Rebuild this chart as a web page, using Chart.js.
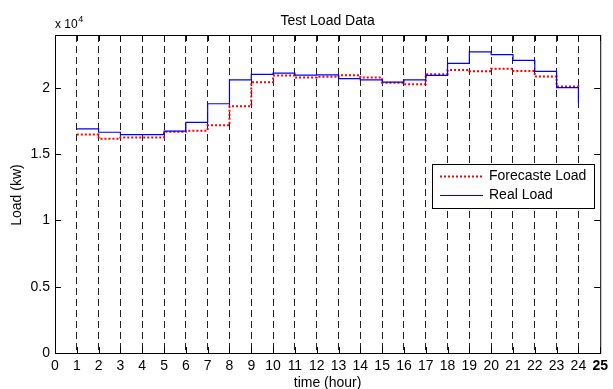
<!DOCTYPE html>
<html>
<head>
<meta charset="utf-8">
<title>Test Load Data</title>
<script src="https://cdn.jsdelivr.net/npm/chart.js@4.4.0/dist/chart.umd.min.js"></script>
<style>
  body { margin: 0; background: #fff; }
  #wrap { width: 613px; height: 389px; position: relative; }
</style>
</head>
<body>
<div id="wrap"><canvas id="load-chart"></canvas></div>
<script>
// Hourly load (kW), drawn as stairs: value i is held from hour i to hour i+1
const hours = [1, 2, 3, 4, 5, 6, 7, 8, 9, 10, 11, 12, 13, 14, 15, 16, 17, 18, 19, 20, 21, 22, 23, 24];
const forecastLoad = [16500, 16170, 16260, 16260, 16700, 16780, 17180, 18620, 20430, 20950, 20800, 20850,
                      20960, 20790, 20390, 20290, 21040, 21350, 21270, 21450, 21280, 20870, 20120, 20100];
const realLoad = [16920, 16660, 16480, 16480, 16750, 17400, 18810, 20620, 21030, 21120, 20970, 20990,
                  20710, 20620, 20450, 20620, 20950, 21860, 22730, 22520, 22080, 21260, 20030, 18870];

const xTicks = [0, 1, 2, 3, 4, 5, 6, 7, 8, 9, 10, 11, 12, 13, 14, 15, 16, 17, 18, 19, 20, 21, 22, 23, 24, 25];
const yTicks = [0, 5000, 10000, 15000, 20000];
const yTickLabels = ['0', '0.5', '1', '1.5', '2'];

const FAMILY = "'Liberation Sans', Arial, sans-serif";
const RED = '#ff0000';
const BLUE = '#0000ff';

// box, inner tick marks, titles and the legend box
const matlabFrame = {
  id: 'matlabFrame',
  afterDraw(chart) {
    const { ctx, chartArea: a, scales: { x, y } } = chart;
    ctx.save();
    ctx.strokeStyle = '#000';
    ctx.lineWidth = 1;
    ctx.strokeRect(a.left + 0.5, a.top + 0.5, a.right - a.left, a.bottom - a.top);

    ctx.beginPath();
    xTicks.forEach(v => {
      const px = Math.round(x.getPixelForValue(v)) + 0.5;
      ctx.moveTo(px, a.bottom); ctx.lineTo(px, a.bottom - 6);
      ctx.moveTo(px, a.top); ctx.lineTo(px, a.top + 6);
    });
    yTicks.forEach(v => {
      const py = Math.round(y.getPixelForValue(v)) + 0.5;
      ctx.moveTo(a.left, py); ctx.lineTo(a.left + 6, py);
      ctx.moveTo(a.right, py); ctx.lineTo(a.right - 6, py);
    });
    ctx.stroke();

    ctx.fillStyle = '#000';
    ctx.textBaseline = 'middle';
    ctx.textAlign = 'center';
    ctx.font = '14px ' + FAMILY;
    ctx.fillText('Test Load Data', (a.left + a.right) / 2, 21);
    ctx.fillText('time (hour)', (a.left + a.right) / 2, 383);

    ctx.save();
    ctx.translate(17, 195);
    ctx.rotate(-Math.PI / 2);
    ctx.fillText('Load (kw)', 0, 0);
    ctx.restore();

    // exponent label above the y axis
    ctx.textAlign = 'left';
    ctx.font = '12px ' + FAMILY;
    ctx.fillText('x 10', 55, 25);
    const w = ctx.measureText('x 10').width;
    ctx.font = '9px ' + FAMILY;
    ctx.fillText('4', 55 + w + 0.5, 20);

    // legend
    const lx = 432, ly = 164, lw = 162, lh = 44;
    ctx.fillStyle = '#fff';
    ctx.fillRect(lx, ly, lw, lh);
    ctx.strokeStyle = '#000';
    ctx.strokeRect(lx + 0.5, ly + 0.5, lw, lh);

    const entries = chart.data.datasets;
    const rows = [176.5, 195.5];
    entries.forEach((ds, i) => {
      ctx.beginPath();
      ctx.strokeStyle = ds.borderColor;
      ctx.lineWidth = ds.borderWidth;
      ctx.setLineDash(ds.borderDash || []);
      ctx.moveTo(440, rows[i]);
      ctx.lineTo(483, rows[i]);
      ctx.stroke();
      ctx.setLineDash([]);
      ctx.fillStyle = '#000';
      ctx.font = '14px ' + FAMILY;
      ctx.fillText(ds.label, 489, rows[i]);
    });
    ctx.restore();
  }
};

const toPoints = vals => hours.map((h, i) => ({ x: h, y: vals[i] }));

new Chart(document.getElementById('load-chart'), {
  type: 'line',
  data: {
    datasets: [
      {
        label: 'Forecaste Load',
        data: toPoints(forecastLoad),
        borderColor: RED,
        borderWidth: 2,
        borderDash: [2, 2],
        stepped: true,
        pointRadius: 0,
        fill: false,
        order: 1
      },
      {
        label: 'Real Load',
        data: toPoints(realLoad),
        borderColor: BLUE,
        borderWidth: 1.2,
        stepped: true,
        pointRadius: 0,
        fill: false,
        order: 0
      }
    ]
  },
  options: {
    responsive: true,
    maintainAspectRatio: false,
    animation: false,
    layout: { padding: { top: 35, right: 8, left: 0, bottom: 0 } },
    plugins: {
      legend: { display: false },
      tooltip: { enabled: false },
      title: { display: false }
    },
    scales: {
      x: {
        type: 'linear',
        min: 0,
        max: 25,
        afterBuildTicks: scale => { scale.ticks = xTicks.map(v => ({ value: v })); },
        afterFit: scale => { scale.height = 36; },
        grid: {
          drawTicks: false,
          lineWidth: 1,
          color: c => (c.tick && c.tick.value >= 1 && c.tick.value <= 24) ? '#222' : 'rgba(0,0,0,0)'
        },
        border: { display: false, dash: [7, 4] },
        ticks: {
          autoSkip: false,
          maxRotation: 0,
          padding: 5,
          color: '#000',
          font: c => ({ family: FAMILY, size: 14, weight: (c.tick && c.tick.value === 25) ? 'bold' : 'normal' }),
          callback: v => String(v)
        }
      },
      y: {
        min: 0,
        max: 24000,
        afterBuildTicks: scale => { scale.ticks = yTicks.map(v => ({ value: v })); },
        afterFit: scale => { scale.width = 55; },
        grid: { display: false, drawTicks: false },
        border: { display: false },
        ticks: {
          padding: 5,
          color: '#000',
          font: { family: FAMILY, size: 14 },
          callback: (v, i) => yTickLabels[i]
        }
      }
    }
  },
  plugins: [matlabFrame]
});
</script>
</body>
</html>
